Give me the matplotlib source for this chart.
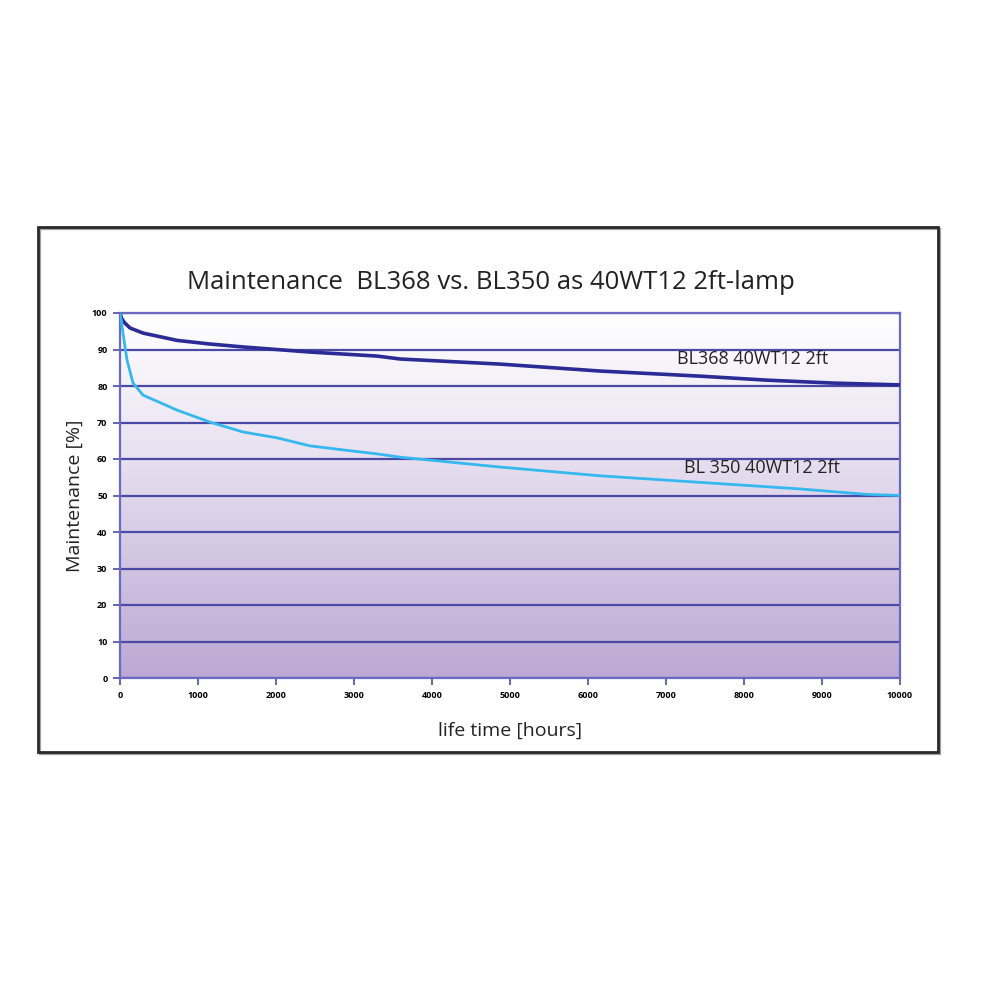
import numpy as np
import matplotlib
matplotlib.use("Agg")
import matplotlib.pyplot as plt
from matplotlib.patches import Rectangle
from matplotlib.colors import LinearSegmentedColormap

# Data
hours_bl368 = [0, 20, 60, 128, 295, 731, 1154, 1577, 2436, 3295, 3590, 4872, 6154, 7436, 8295, 9141, 10000]
maint_bl368 = [100, 98.5, 97.3, 95.9, 94.5, 92.5, 91.5, 90.7, 89.3, 88.2, 87.4, 86.0, 84.1, 82.7, 81.6, 80.8, 80.3]

hours_bl350 = [0, 20, 38, 90, 167, 295, 731, 1154, 1577, 2013, 2436, 2859, 3295, 3590, 4872, 6154, 7436, 8718, 9577, 10000]
maint_bl350 = [100, 97.5, 94.5, 87.1, 80.8, 77.5, 73.4, 70.1, 67.4, 65.8, 63.6, 62.5, 61.4, 60.5, 57.8, 55.4, 53.6, 51.8, 50.3, 50.0]

x_ticks = [0, 1000, 2000, 3000, 4000, 5000, 6000, 7000, 8000, 9000, 10000]
y_ticks = [0, 10, 20, 30, 40, 50, 60, 70, 80, 90, 100]

title = "Maintenance  BL368 vs. BL350 as 40WT12 2ft-lamp"
label_368 = "BL368 40WT12 2ft"
label_350 = "BL 350 40WT12 2ft"

plt.rcParams['font.family'] = ['Open Sans', 'DejaVu Sans']

fig = plt.figure(figsize=(10, 10), dpi=100)
fig.patch.set_facecolor('white')

# outer frame with slight shadow
fig.patches.append(Rectangle((0.040, 0.246), 0.9, 0.525, transform=fig.transFigure,
                             fill=False, edgecolor='#a0a0a0', lw=1.6, zorder=0))
fig.patches.append(Rectangle((0.038, 0.248), 0.9, 0.525, transform=fig.transFigure,
                             fill=False, edgecolor='#2a2a2a', lw=2.0, zorder=1))

ax = fig.add_axes([0.12, 0.322, 0.78, 0.365])

# gradient background
cmap = LinearSegmentedColormap.from_list('bg', ['#ffffff', '#ece6f3', '#d3c6e3', '#bba8d4'])
grad = np.linspace(1, 0, 256).reshape(-1, 1)
ax.imshow(grad, extent=[0, 10000, 0, 100], aspect='auto', cmap=cmap, zorder=0,
          origin='lower', vmin=0, vmax=1)

grid_col = '#4a4aa6'
for yv in y_ticks:
    ax.axhline(yv, color=grid_col, lw=1.6, zorder=1)

ax.plot(hours_bl368, maint_bl368, color='#2b2b95', lw=2.6, zorder=3, solid_capstyle='butt')
ax.plot(hours_bl350, maint_bl350, color='#35b8ee', lw=2.0, zorder=3, solid_capstyle='butt')

ax.set_xlim(0, 10000)
ax.set_ylim(0, 100)
ax.set_xticks(x_ticks)
ax.set_yticks(y_ticks)
ax.set_xticklabels([str(v) for v in x_ticks], fontsize=6.5, fontweight='bold', color='black')
ax.set_yticklabels([str(v) for v in y_ticks], fontsize=6.5, fontweight='bold', color='black')
ax.tick_params(axis='both', color=grid_col, length=5, width=1.2, pad=4)

for sp in ax.spines.values():
    sp.set_color('#6a6ac0')
    sp.set_linewidth(1.6)

ax.set_xlabel("life time [hours]", fontsize=14, labelpad=16, color='#222222')
ax.set_ylabel("Maintenance [%]", fontsize=14, labelpad=6, color='#222222')
ax.set_title(title, fontsize=18.5, pad=17, color='#222222', x=0.476)

ax.text(8115, 87.3, label_368, fontsize=13, ha='center', va='center', color='#222222', zorder=4)
ax.text(8230, 57.6, label_350, fontsize=13, ha='center', va='center', color='#222222', zorder=4)

fig.savefig("out.png", dpi=100)
